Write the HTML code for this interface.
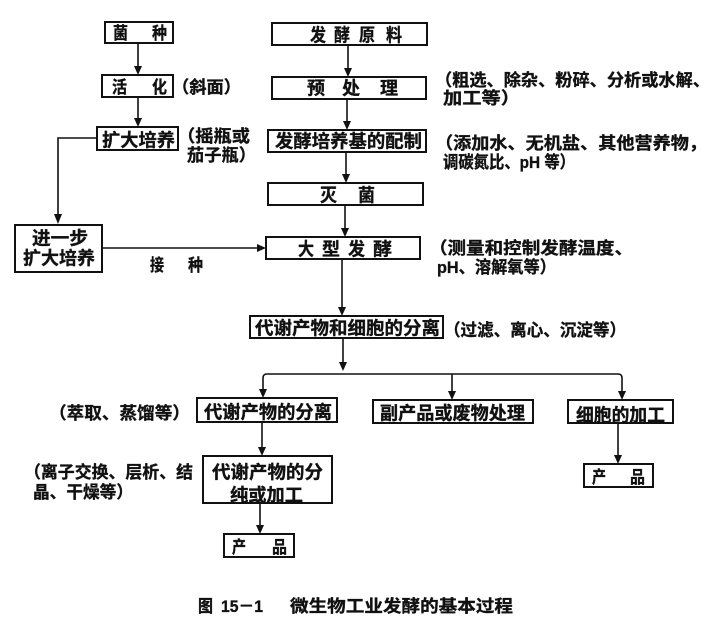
<!DOCTYPE html>
<html><head><meta charset="utf-8">
<style>
html,body{margin:0;padding:0;background:#fff;}
svg{display:block;}
text{font-family:"Liberation Sans","Noto Sans CJK SC",sans-serif;font-weight:bold;fill:#111;stroke:#111;stroke-width:0.35;}
</style></head>
<body>
<svg width="723" height="634" viewBox="0 0 723 634" xmlns="http://www.w3.org/2000/svg">
<g fill="none" stroke="#111" stroke-width="2">
<rect x="105" y="22" width="68" height="21"/>
<rect x="102" y="75" width="71" height="22"/>
<rect x="97" y="127" width="81" height="23"/>
<rect x="15" y="225" width="87" height="47"/>
<rect x="272" y="23" width="155" height="22"/>
<rect x="272" y="77" width="154" height="22"/>
<rect x="268" y="130" width="158" height="22"/>
<rect x="268" y="183" width="155" height="22"/>
<rect x="266" y="237" width="154" height="22"/>
<rect x="250" y="316" width="193" height="22"/>
<rect x="197" y="398" width="140" height="24"/>
<rect x="373" y="400" width="160" height="23"/>
<rect x="568" y="400" width="105" height="23"/>
<rect x="203" y="456" width="129" height="47"/>
<rect x="224" y="534" width="70" height="23"/>
<rect x="584" y="464" width="69" height="23"/>
</g>
<g fill="none" stroke="#111" stroke-width="1.6">
<path d="M138 43 V68"/>
<path d="M138 97 V120"/>
<path d="M97 138 H58 V215"/>
<path d="M102 248 H259"/>
<path d="M348 45 V70"/>
<path d="M347 99 V123"/>
<path d="M346 152 V176"/>
<path d="M345 205 V230"/>
<path d="M342 259 V309"/>
<path d="M343 338 V364"/>
<path d="M263 390 V378 Q263 374 267 374 H618 Q622 374 622 378 V393"/>
<path d="M452 374 V393"/>
<path d="M262 422 V449"/>
<path d="M260 503 V527"/>
<path d="M618 423 V457"/>
</g>
<g fill="#111">
<polygon points="138,75 134,66 142,66"/>
<polygon points="138,127 134,118 142,118"/>
<polygon points="58,224 54,214 62,214"/>
<polygon points="266,248 257,244 257,252"/>
<polygon points="348,77 344,68 352,68"/>
<polygon points="347,130 343,121 351,121"/>
<polygon points="346,183 342,174 350,174"/>
<polygon points="345,237 341,228 349,228"/>
<polygon points="342,316 338,307 346,307"/>
<polygon points="343,371 339,362 347,362"/>
<polygon points="263,398 259,389 267,389"/>
<polygon points="452,400 448,391 456,391"/>
<polygon points="622,400 618,391 626,391"/>
<polygon points="262,456 258,447 266,447"/>
<polygon points="260,534 256,525 264,525"/>
<polygon points="618,464 614,455 622,455"/>
</g>
<g font-size="17">
<text x="113" y="39" textLength="15" lengthAdjust="spacingAndGlyphs">菌</text>
<text x="152" y="39" textLength="15" lengthAdjust="spacingAndGlyphs">种</text>
<text x="112" y="93" textLength="15" lengthAdjust="spacingAndGlyphs">活</text>
<text x="152" y="93" textLength="15" lengthAdjust="spacingAndGlyphs">化</text>
<text x="172" y="93" textLength="69" lengthAdjust="spacingAndGlyphs">（斜面）</text>
<text x="102" y="146.5" font-size="18" textLength="73" lengthAdjust="spacingAndGlyphs">扩大培养</text>
<text x="177" y="142" textLength="73" lengthAdjust="spacingAndGlyphs">（摇瓶或</text>
<text x="187" y="161" textLength="69" lengthAdjust="spacingAndGlyphs">茄子瓶）</text>
<text x="32" y="244.5" font-size="18" textLength="56" lengthAdjust="spacingAndGlyphs">进一步</text>
<text x="23" y="264.5" font-size="18" textLength="72" lengthAdjust="spacingAndGlyphs">扩大培养</text>
<text x="150" y="271" textLength="14" lengthAdjust="spacingAndGlyphs">接</text>
<text x="188" y="271" textLength="15" lengthAdjust="spacingAndGlyphs">种</text>

<text x="310" y="41.5" font-size="18" textLength="16" lengthAdjust="spacingAndGlyphs">发</text>
<text x="334" y="41.5" font-size="18" textLength="16" lengthAdjust="spacingAndGlyphs">酵</text>
<text x="359" y="41.5" font-size="18" textLength="16" lengthAdjust="spacingAndGlyphs">原</text>
<text x="386" y="41.5" font-size="18" textLength="16" lengthAdjust="spacingAndGlyphs">料</text>

<text x="307" y="94.5" font-size="18" textLength="18" lengthAdjust="spacingAndGlyphs">预</text>
<text x="342" y="94.5" font-size="18" textLength="18" lengthAdjust="spacingAndGlyphs">处</text>
<text x="380" y="94.5" font-size="18" textLength="18" lengthAdjust="spacingAndGlyphs">理</text>

<text x="275" y="147.5" font-size="18" textLength="147" lengthAdjust="spacingAndGlyphs">发酵培养基的配制</text>

<text x="320" y="201.5" font-size="18" textLength="17" lengthAdjust="spacingAndGlyphs">灭</text>
<text x="358" y="201.5" font-size="18" textLength="17" lengthAdjust="spacingAndGlyphs">菌</text>

<text x="298" y="255.5" font-size="18" textLength="16" lengthAdjust="spacingAndGlyphs">大</text>
<text x="322" y="255.5" font-size="18" textLength="18" lengthAdjust="spacingAndGlyphs">型</text>
<text x="348" y="255.5" font-size="18" textLength="17" lengthAdjust="spacingAndGlyphs">发</text>
<text x="373" y="255.5" font-size="18" textLength="19" lengthAdjust="spacingAndGlyphs">酵</text>

<text x="435" y="86" textLength="275" lengthAdjust="spacingAndGlyphs">（粗选、除杂、粉碎、分析或水解、</text>
<text x="443" y="104" textLength="77" lengthAdjust="spacingAndGlyphs">加工等）</text>
<text x="435" y="149" textLength="272" lengthAdjust="spacingAndGlyphs">（添加水、无机盐、其他营养物，</text>
<text x="443" y="168" textLength="132" lengthAdjust="spacingAndGlyphs">调碳氮比、pH 等）</text>
<text x="429" y="254" textLength="204" lengthAdjust="spacingAndGlyphs">（测量和控制发酵温度、</text>
<text x="437" y="273" textLength="119" lengthAdjust="spacingAndGlyphs">pH、溶解氧等）</text>

<text x="255" y="334.5" font-size="18" textLength="185" lengthAdjust="spacingAndGlyphs">代谢产物和细胞的分离</text>
<text x="444" y="336" textLength="182" lengthAdjust="spacingAndGlyphs">（过滤、离心、沉淀等）</text>

<text x="49" y="419" textLength="141" lengthAdjust="spacingAndGlyphs">（萃取、蒸馏等）</text>
<text x="204" y="418.5" font-size="18" textLength="128" lengthAdjust="spacingAndGlyphs">代谢产物的分离</text>
<text x="380" y="419.5" font-size="18" textLength="145" lengthAdjust="spacingAndGlyphs">副产品或废物处理</text>
<text x="576" y="421.5" font-size="18" textLength="89" lengthAdjust="spacingAndGlyphs">细胞的加工</text>

<text x="212" y="478.5" font-size="18" textLength="111" lengthAdjust="spacingAndGlyphs">代谢产物的分</text>
<text x="230" y="501.5" font-size="18" textLength="73" lengthAdjust="spacingAndGlyphs">纯或加工</text>
<text x="24" y="478" textLength="169" lengthAdjust="spacingAndGlyphs">（离子交换、层析、结</text>
<text x="33" y="498" textLength="100" lengthAdjust="spacingAndGlyphs">晶、干燥等）</text>

<text x="232" y="553" textLength="14" lengthAdjust="spacingAndGlyphs">产</text>
<text x="272" y="553" textLength="15" lengthAdjust="spacingAndGlyphs">品</text>
<text x="592" y="483" textLength="14" lengthAdjust="spacingAndGlyphs">产</text>
<text x="630" y="483" textLength="15" lengthAdjust="spacingAndGlyphs">品</text>

<text x="198" y="612" textLength="15" lengthAdjust="spacingAndGlyphs">图</text>
<text x="221" y="612" font-family="Liberation Serif, serif" textLength="42" lengthAdjust="spacingAndGlyphs">15－1</text>
<text x="290" y="612" textLength="223" lengthAdjust="spacingAndGlyphs">微生物工业发酵的基本过程</text>
</g>
</svg>
</body></html>
